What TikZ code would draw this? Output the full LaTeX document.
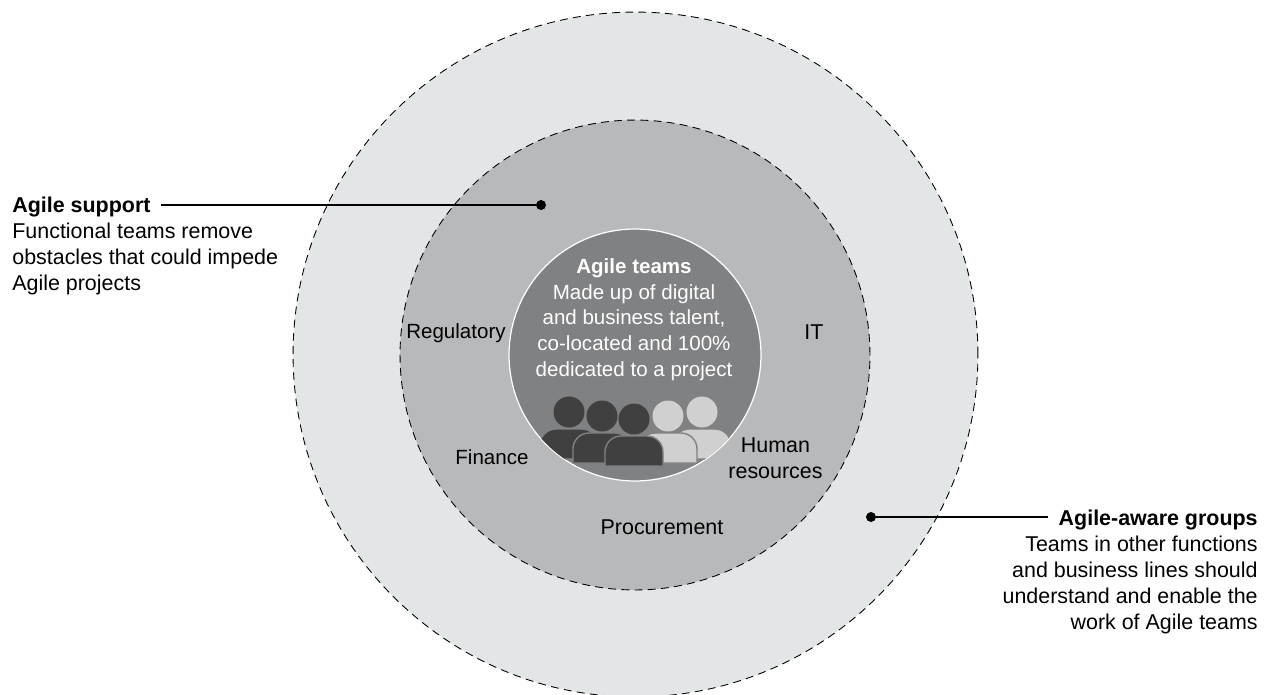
\documentclass[tikz,border=0pt]{standalone}
\usepackage{fontspec}
\setmainfont{Liberation Sans}
\usepackage{tikz}
\usetikzlibrary{positioning}
\definecolor{outergray}{HTML}{E3E6E7}
\definecolor{midgray}{HTML}{B8B9BB}
\definecolor{innergray}{HTML}{808183}
\definecolor{darkperson}{HTML}{404040}
\definecolor{lightperson}{HTML}{D0D0D0}
\begin{document}
\begin{tikzpicture}[
    x=0.02cm, y=-0.02cm,
    ring/.style={circle, draw=black, dash pattern=on 4.5pt off 3pt, line width=0.5pt, inner sep=0pt},
    core/.style={circle, draw=white, fill=innergray, line width=0.7pt, inner sep=0pt, minimum size=5.04cm},
    label/.style={font=\fontsize{12.2}{14.7}\selectfont, inner sep=0pt, text=black},
    snuglabel/.style={label, font=\fontsize{11.7}{14.7}\selectfont},
    dot/.style={circle, fill=black, inner sep=0pt, minimum size=0.2cm},
    lead/.style={line width=0.6pt}
]
    \useasboundingbox (0,0) rectangle (1272,694);

    % Rings
    \node[ring, fill=outergray, minimum size=13.7cm] (outer) at (635.5,354.5) {};
    \node[ring, fill=midgray, minimum size=9.4cm] (middle) at (635,355) {};
    \node[core] (inner) at (635,355) {};

    % People
    \begin{scope}
        \clip (635,355) circle (125.5);
        \foreach \px/\py/\col in {569/412/darkperson, 702/412/lightperson, 668/416/lightperson, 602/416/darkperson, 634/419/darkperson}{
            \fill[\col] (\px,\py) circle (15.5);
            \draw[fill=\col, draw=innergray, line width=0.8pt]
                (\px-29,\py+47) [rounded corners=0.32cm] -- (\px-29,\py+17) -- (\px+29,\py+17)
                [sharp corners] -- (\px+29,\py+47) -- cycle;
        }
    \end{scope}

    % Center text
    \node[snuglabel, text=white, align=center, anchor=north] (teamtext) at (634,258)
        {\textbf{Agile teams}\\Made up of digital\\and business talent,\\co-located and 100\%\\dedicated to a project};

    % Functions
    \node[snuglabel] (regulatory) at (456,333) {Regulatory};
    \node[label] (it) at (814,332) {IT};
    \node[snuglabel] (finance) at (492,457) {Finance};
    \node[label, align=center] (hr) at (775.5,458.5) {Human\\resources};
    \node[label] (procurement) at (662,527) {Procurement};

    % Left label
    \node[label, anchor=west] (support) at (12,207) {\textbf{Agile support}};
    \node[label, align=left, below=3pt of support.south west, anchor=north west] (supporttext)
        {Functional teams remove\\obstacles that could impede\\Agile projects};
    \node[dot] (supportdot) at (541,205) {};
    \draw[lead] (supportdot) -- (161,205) coordinate (supportstart);

    % Right label
    \node[label, anchor=east] (aware) at (1258,520) {\textbf{Agile-aware groups}};
    \node[label, align=right, below=3pt of aware.south east, anchor=north east] (awaretext)
        {Teams in other functions\\and business lines should\\understand and enable the\\work of Agile teams};
    \node[dot] (awaredot) at (871,517) {};
    \draw[lead] (awaredot) -- (1048,517) coordinate (awarestart);
\end{tikzpicture}
\end{document}
